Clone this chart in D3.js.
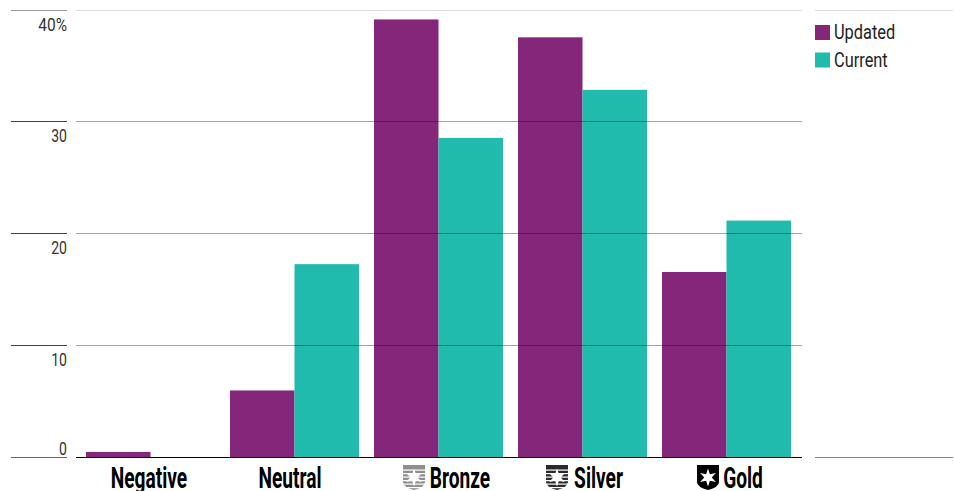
<!DOCTYPE html>
<html><head><meta charset="utf-8">
<script src="https://cdn.jsdelivr.net/npm/d3@7"></script>
<style>html,body{margin:0;padding:0;background:#fff;overflow:hidden}svg{display:block}</style>
</head><body><svg id="c" width="954" height="491"></svg>
<script>
const categories = ["Negative","Neutral","Bronze","Silver","Gold"];
const updated = [0.5,6.0,39.2,37.6,16.6];
const current = [0,17.3,28.6,32.9,21.2];
const seriesNames = ["Updated","Current"];
const tickValues = [0,10,20,30,40];
const colors = ["#84277a","#21bbad"];
const medals = {Bronze:"#8f8f8f",Silver:"#2a2a2a",Gold:"#000"};

const svg = d3.select("#c");
const y = d3.scaleLinear().domain([0,40]).range([457.5,10.5]);
const x0 = d3.scalePoint().domain(categories).range([150.5,726.5]);
const x1 = d3.scaleBand().domain(seriesNames).range([-64.5,64.5]);
const font = "Roboto,'Liberation Sans',sans-serif";

categories.forEach((c,i)=>{
  seriesNames.forEach((s,j)=>{
    const v=(j?current:updated)[i];
    svg.append("rect").attr("x",x0(c)+x1(s)).attr("width",x1.bandwidth())
      .attr("y",y(v)).attr("height",y(0)-y(v)).attr("fill",colors[j]);
  });
});
// gridlines
tickValues.forEach(t=>{
  const base = Math.floor(y(t)-.5)+.5;
  const zero=t===0;
  svg.append("line").attr("x1",11).attr("x2",67).attr("y1",base).attr("y2",base).attr("stroke",zero?"#666":(t===40?"#999":"#444"));
  svg.append("line").attr("x1",76).attr("x2",802).attr("y1",base).attr("y2",base).attr("stroke",zero?"#000":(t===40?"#ddd":"rgba(0,0,0,.35)"));
  if(zero||t===40) svg.append("line").attr("x1",815).attr("x2",953).attr("y1",base).attr("y2",base).attr("stroke",zero?"#888":"#ddd");
  svg.append("text").attr("transform",`translate(67,${base+(zero?-3:20)}) scale(${t===40?0.86:0.78},1)`).attr("text-anchor","end")
    .attr("font-family",font).attr("font-weight",400).attr("font-size",18).attr("fill","#333")
    .text(t===40?"40%":t);
});
// legend
seriesNames.forEach((s,i)=>{
  const yy=25+i*27.5;
  svg.append("rect").attr("x",815).attr("y",yy).attr("width",15).attr("height",15).attr("fill",colors[i]);
  svg.append("text").attr("transform",`translate(834,${yy+14}) scale(0.82,1)`).attr("font-family",font).attr("font-size",20).attr("fill","#222").text(s);
});
// medal icon
function medal(g,col,striped){
  g.append("path").attr("d","M-11 -12H11V5Q11 10 0 13Q-11 10 -11 5Z").attr("fill",col);
  if(striped){[-7.5,-4,-0.5,3,6.5,10].forEach(d=>g.append("rect").attr("x",-12).attr("y",d).attr("width",24).attr("height",1.2).attr("fill","#fff"));}
  const star=d3.range(12).map(k=>{const r=k%2?3.8:9,a=k*Math.PI/6;return [r*Math.sin(a),r*-Math.cos(a)+0.5];});
  g.append("path").attr("d",d3.line()(star)+"Z").attr("fill","#fff");
}
// labels
const labelX={Negative:149,Neutral:290,Bronze:460,Silver:598.5,Gold:743};
const medalX={Bronze:414,Silver:557,Gold:708};
categories.forEach(c=>{
  svg.append("text").attr("transform",`translate(${labelX[c]},488) scale(0.66,1)`).attr("text-anchor","middle")
    .attr("font-family",font).attr("font-weight",700).attr("font-size",29).attr("fill","#000").text(c);
  if(medals[c]){
    const g=svg.append("g").attr("transform",`translate(${medalX[c]},477)`);
    medal(g,medals[c],c!=="Gold");
  }
});
</script></body></html>
